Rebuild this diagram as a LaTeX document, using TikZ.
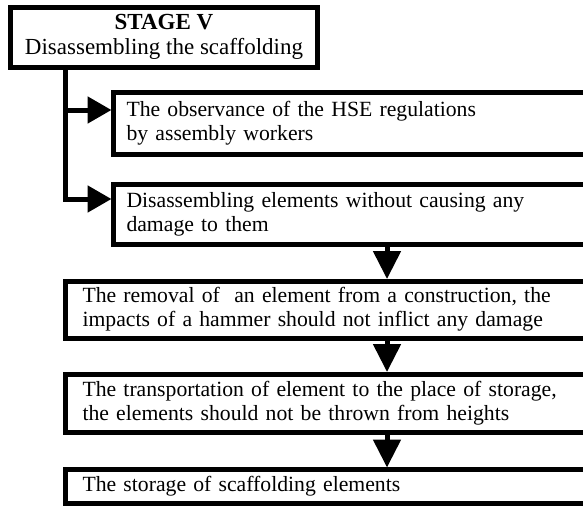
\documentclass[tikz,border=0pt]{standalone}
\usepackage{fontspec}
\setmainfont{Liberation Serif}
\usetikzlibrary{arrows.meta}
\begin{document}
\begin{tikzpicture}[x=1pt,y=-1pt,
  box/.style={draw=black, line width=5pt, fill=white, outer sep=0pt, anchor=north west, inner ysep=0pt, font=\fontsize{21.7}{24}\selectfont},
  wide/.style={box, minimum width=539.5pt, text width=505.5pt, inner xsep=17pt, align=left},
  narrow/.style={box, minimum width=491.5pt, text width=465.5pt, inner xsep=13pt, align=left},
  conn/.style={line width=5pt, -{Triangle[length=24pt,width=26pt]}, shorten >=2pt},
  down/.style={line width=5pt, -{Triangle[length=28pt,width=27pt]}, shorten >=2pt},
]
\useasboundingbox (0,0) rectangle (583,506);
\clip (0,0) rectangle (583,506);
\node[box, minimum width=307pt, minimum height=60.5pt, align=center, font=\fontsize{23}{25}\selectfont] (B0) at (10.5,7)
  {\textbf{STAGE V}\\Disassembling the scaffolding};
\node[narrow, minimum height=62pt] (B1) at (113.5,92)
  {The observance of the HSE regulations\\by assembly workers};
\node[narrow, minimum height=60.5pt] (B2) at (113.5,184)
  {Disassembling elements without causing any\\damage to them};
\node[wide, minimum height=57pt] (B3) at (65.5,281)
  {The removal of\ \ an element from a construction, the\\impacts of a hammer should not inflict any damage};
\node[wide, minimum height=58.5pt] (B4) at (65.5,374)
  {The transportation of element to the place of storage,\\the elements should not be thrown from heights};
\node[wide, minimum height=34pt] (B5) at (65.5,469.5)
  {The storage of scaffolding elements};
\coordinate (tr) at (65.5,0);
\coordinate (a1) at (0,110);
\coordinate (a2) at (0,199);
\coordinate (ax) at (387,0);
\draw[conn] (B0.south -| tr) |- (B2.west |- a2);
\draw[conn] (tr |- a1) -- (B1.west |- a1);
\draw[down] (B2.south -| ax) -- (B3.north -| ax);
\draw[down] (B3.south -| ax) -- (B4.north -| ax);
\draw[down] (B4.south -| ax) -- (B5.north -| ax);
\end{tikzpicture}
\end{document}
